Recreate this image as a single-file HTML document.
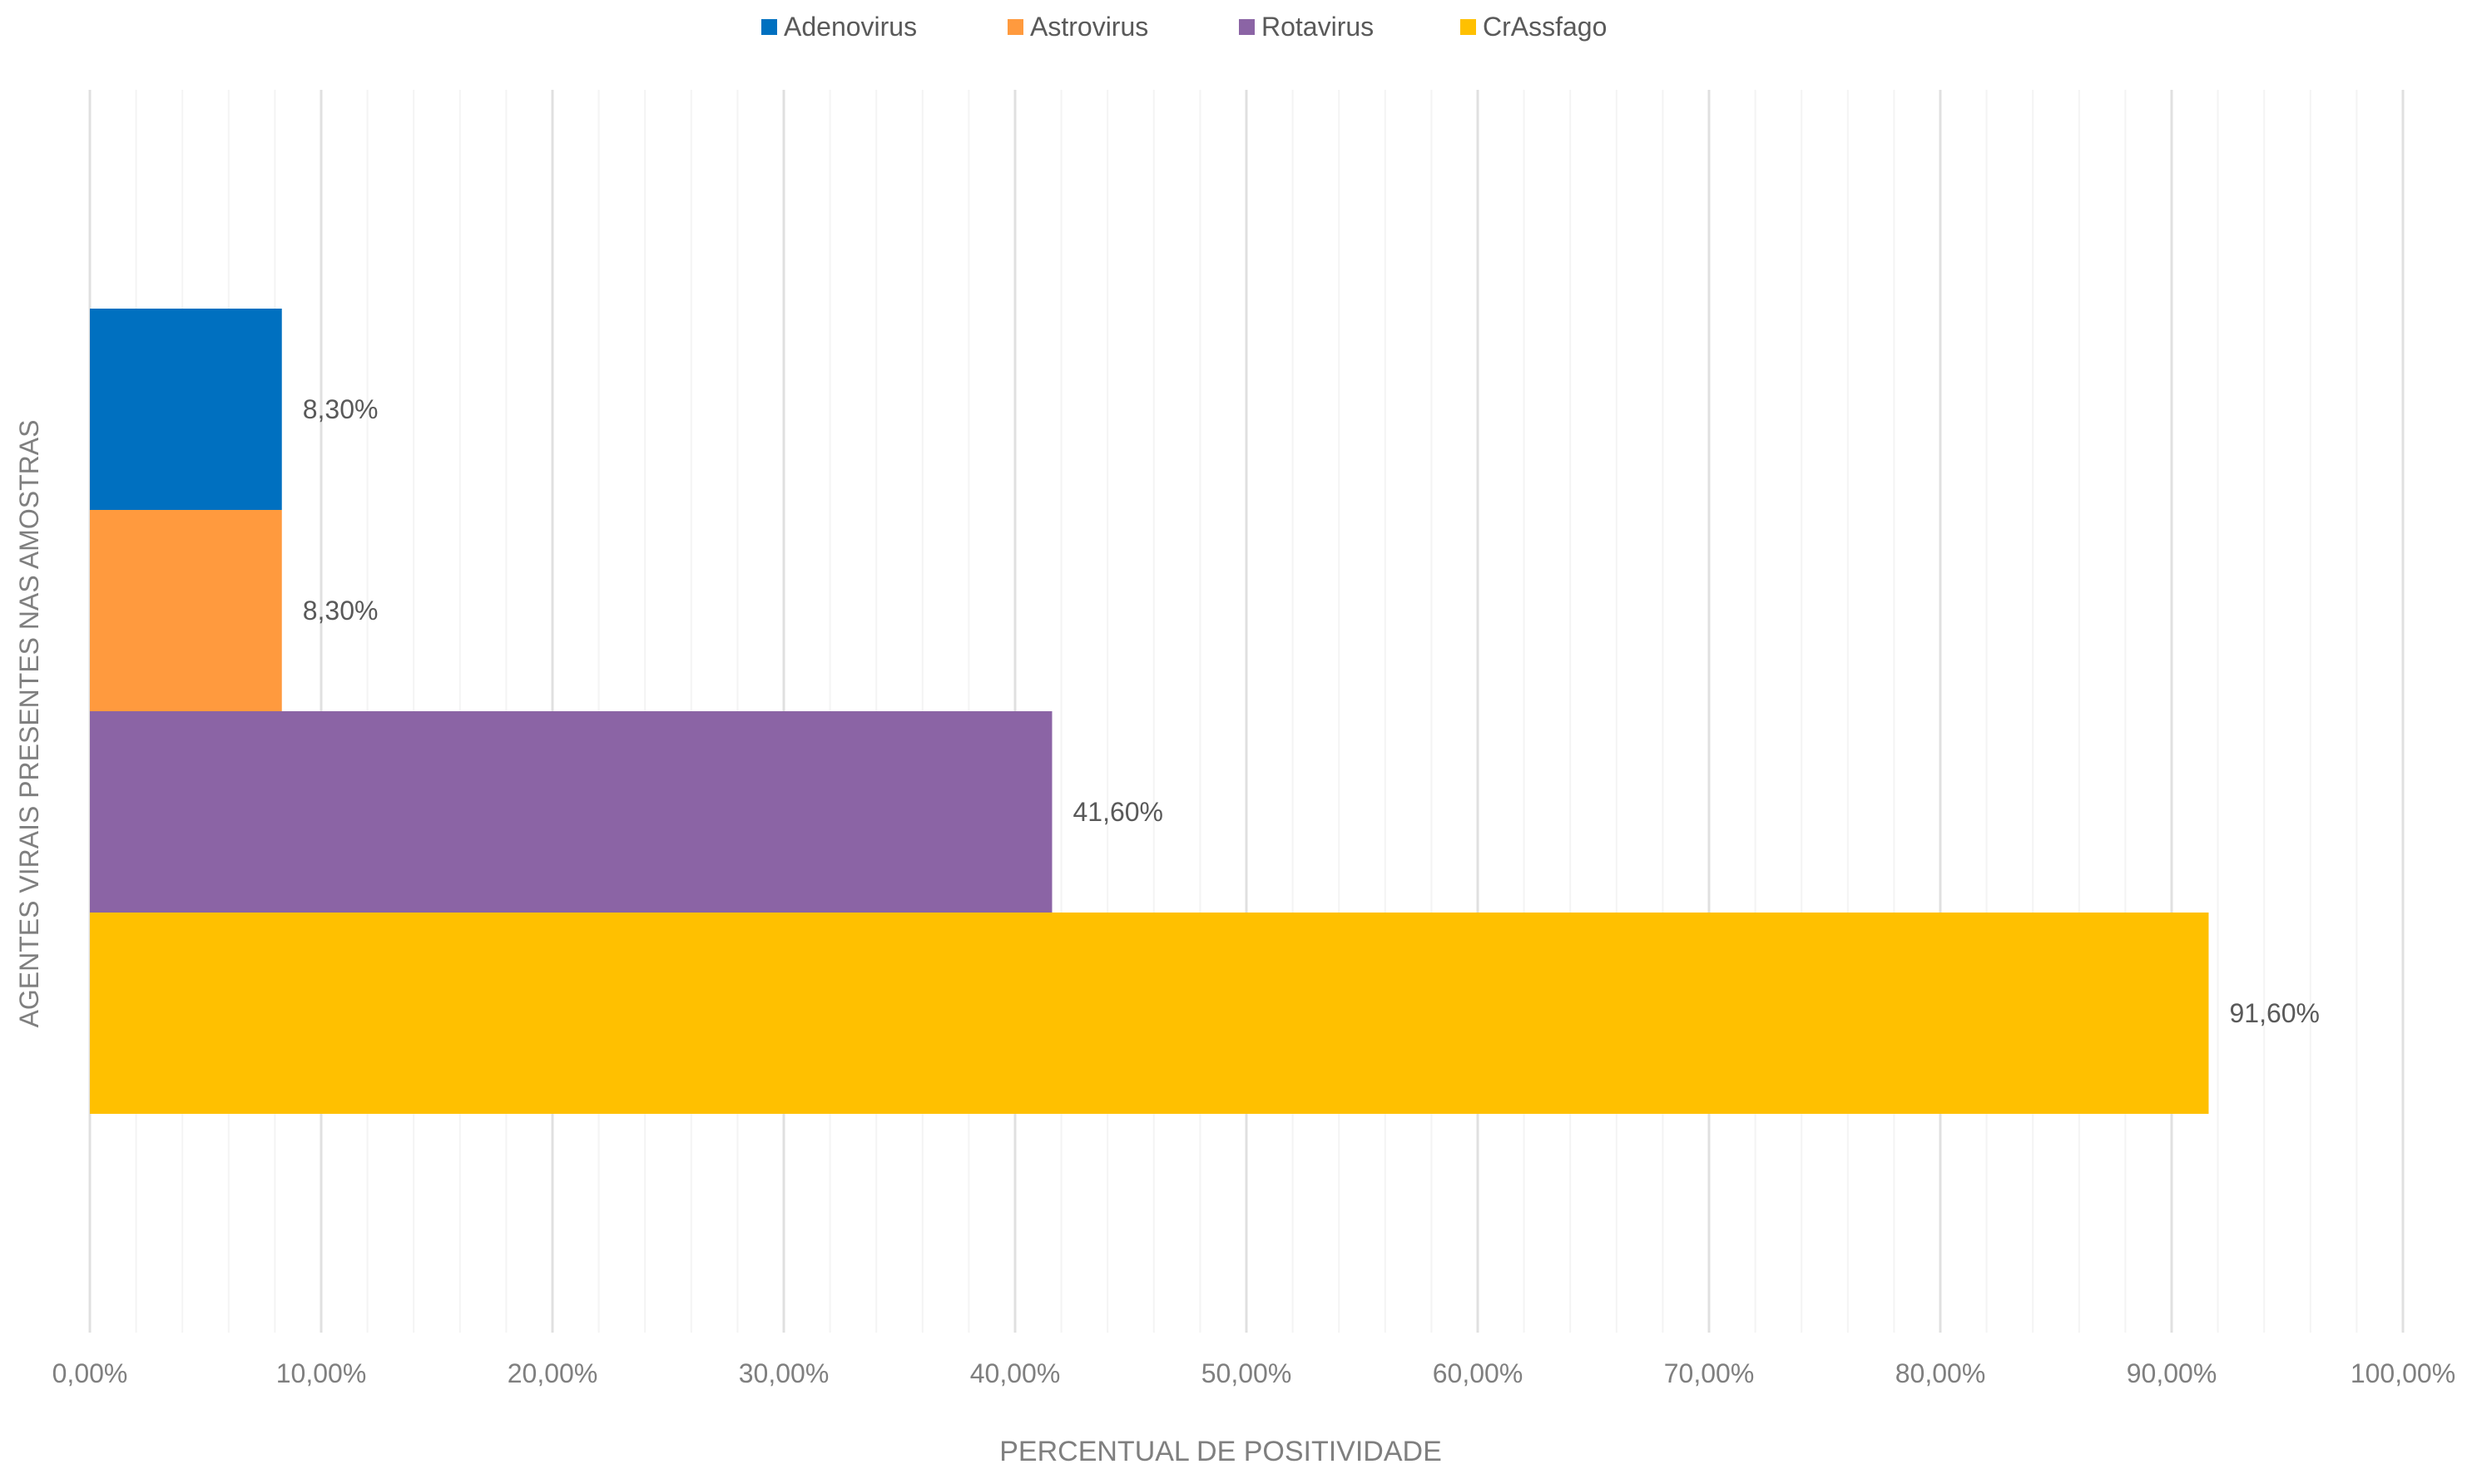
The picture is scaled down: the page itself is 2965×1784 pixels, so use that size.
<!DOCTYPE html>
<html><head><meta charset="utf-8"><style>
html,body{margin:0;padding:0;background:#fff}
svg{display:block;font-family:"Liberation Sans",sans-serif}
</style></head><body>
<svg id="chart" width="2965" height="1784" viewBox="0 0 2965 1784" xmlns="http://www.w3.org/2000/svg">
<g id="grid"></g>
<g id="bars"></g>
<g id="ticks"></g>
<g id="legend"></g>
<text x="1467" y="1756" text-anchor="middle" font-size="34" fill="#7f7f7f">PERCENTUAL DE POSITIVIDADE</text>
<text transform="translate(46,870) rotate(-90)" text-anchor="middle" font-size="32" fill="#7f7f7f">AGENTES VIRAIS PRESENTES NAS AMOSTRAS</text>
</svg>
<script>
const categories = ["Adenovirus","Astrovirus","Rotavirus","CrAssfago"];
const values = [8.3, 8.3, 41.6, 91.6];
const colors = ["#0070c0","#ff9a3e","#8b64a5","#ffc000"];
const tickValues = [0,10,20,30,40,50,60,70,80,90,100];
const tickLabels = ["0,00%","10,00%","20,00%","30,00%","40,00%","50,00%","60,00%","70,00%","80,00%","90,00%","100,00%"];
const valueLabels = ["8,30%","8,30%","41,60%","91,60%"];

const NS="http://www.w3.org/2000/svg";
const X0=108, X1=2888, YT=108, YB=1602;
const xScale = v => X0 + (v/100)*(X1-X0);
const barH=242, barsTop=(YT+YB)/2 - barH*categories.length/2;
const yScale = i => barsTop + i*barH;
function mk(tag,attrs,parent){const e=document.createElementNS(NS,tag);for(const k in attrs)e.setAttribute(k,attrs[k]);parent.appendChild(e);return e;}
const grid=document.getElementById('grid'), bars=document.getElementById('bars'), ticks=document.getElementById('ticks'), legend=document.getElementById('legend');
for(let v=0; v<=100; v+=2){
  const major = v%10===0;
  const l=mk('line',{x1:xScale(v),x2:xScale(v),y1:YT,y2:YB,stroke:major?'#e0e0e0':'#f4f4f4','stroke-width':major?3:2},grid);
  
  
}
tickValues.forEach((v,i)=>{
  const t=mk('text',{x:xScale(v),y:1662,'text-anchor':'middle','font-size':32,fill:'#7f7f7f'},ticks);
  t.textContent=tickLabels[i];
  
  
});
values.forEach((v,i)=>{
  const r=mk('rect',{x:X0,y:yScale(i),width:xScale(v)-X0,height:barH,fill:colors[i]},bars);
  
  
  const t=mk('text',{x:xScale(v)+25,y:yScale(i)+barH/2+11,'font-size':32,fill:'#595959'},bars);
  t.textContent=valueLabels[i];
  
  
});
const legX=[915,1211,1489,1755];
categories.forEach((c,i)=>{
  const s=mk('rect',{x:legX[i],y:23,width:19,height:19,fill:colors[i]},legend);
  
  
  const t=mk('text',{x:legX[i]+27,y:43,'font-size':32,fill:'#595959'},legend);
  t.textContent=c;
  
  
});
</script>
</body></html>
